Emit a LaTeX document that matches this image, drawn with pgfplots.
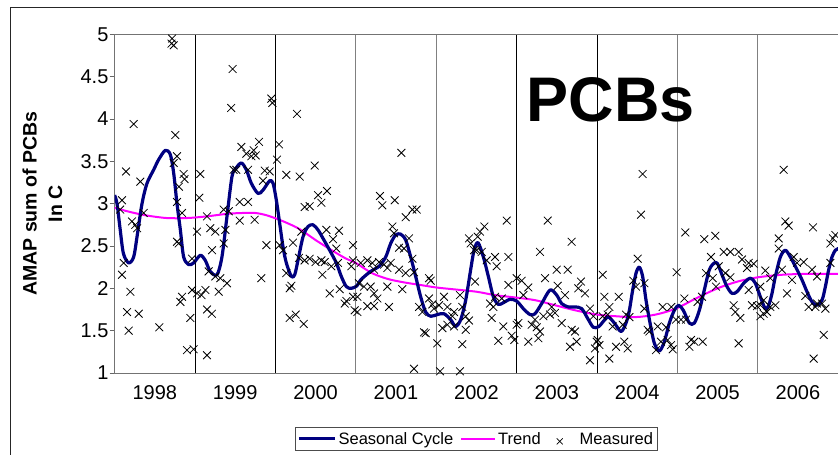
\documentclass[border=0pt]{standalone}
\usepackage{pgfplots}
\pgfplotsset{compat=1.18}
\usepackage{fontspec}
\setmainfont{Liberation Sans}
\definecolor{navyc}{RGB}{0,0,128}
\definecolor{magc}{RGB}{255,0,255}
\pgfplotsset{
  legline/.style={legend image code/.code={\draw[##1] (0pt,0pt) -- (#1,0pt);}},
  legmark/.style={legend image code/.code={\path[draw=none] (0pt,0pt) -- (30pt,0pt);
     \path[draw=black, line width=0.7pt] (9pt,-5.5pt) -- (15pt,0.5pt) (9pt,0.5pt) -- (15pt,-5.5pt);}},
}
\begin{document}
\begin{tikzpicture}[x=1pt,y=1pt]
\draw[black!85, line width=1pt] (10.7,-30) rectangle (900,447.7);
\begin{axis}[
  at={(114.6pt,82pt)}, anchor=south west,
  scale only axis, width=731.6pt, height=338.7pt,
  xmin=1998, xmax=2007.1, ymin=1, ymax=5,
  axis line style={draw=black!55, line width=0.8pt},
  /pgf/number format/assume math mode=true,
  ytick={1,1.5,2,2.5,3,3.5,4,4.5,5},
  ytick pos=left,
  y tick style={draw=black!60, line width=0.8pt},
  tick align=outside, major tick length=5pt,
  yticklabel style={font=\fontsize{20}{22}\selectfont, inner xsep=1pt},
  xtick={1999,2000,2003,2004}, xticklabels={},
  x tick style={draw=none},
  xmajorgrids, major grid style={black, line width=0.8pt},
  minor xtick={2001,2002,2005,2006}, xminorgrids,
  minor grid style={black!50, line width=0.8pt},
  extra x ticks={1998.5,1999.5,2000.5,2001.5,2002.5,2003.5,2004.5,2005.5,2006.5},
  extra x tick labels={1998,1999,2000,2001,2002,2003,2004,2005,2006},
  extra x tick style={grid=none, major tick length=0pt, tick style={draw=none}},
  xticklabel style={font=\fontsize{20}{22}\selectfont, yshift=-9pt},
  ylabel={AMAP sum of PCBs\\In C},
  ylabel style={at={(axis description cs:-0.0988,0.5)}, anchor=center, align=center,
    font=\bfseries\fontsize{19.5}{25.5}\selectfont},
  legend style={at={(0.4943,-0.1585)}, anchor=north, legend columns=3,
    draw=black!70, line width=0.8pt, font=\fontsize{16.5}{19}\selectfont,
    inner xsep=2pt, inner ysep=3pt, /tikz/every even column/.append style={column sep=5pt}},
  reverse legend,
]
\addplot[only marks, mark=x, mark size=5.5pt, mark options={line width=0.8pt, black}, legmark] coordinates {
(1998.715,4.95)(1998.708,4.89)(1998.735,4.87)(1999.468,4.59)(1999.45,4.13)(1998.237,3.94)(1998.755,3.81)
(1998.776,3.56)(1998.735,3.48)(1998.142,3.38)(1998.859,3.35)(1999.066,3.35)(1998.32,3.26)(1998.87,3.29)
(1998.8,3.20)(1999.48,3.40)(1999.054,3.07)(1998.092,3.04)(1998.776,3.02)(1998.07,2.93)(1998.362,2.89)
(1998.839,2.89)(1999.357,2.93)(1999.42,2.91)(1999.149,2.85)(1998.216,2.79)(1998.258,2.75)(1998.28,2.71)
(1999.19,2.71)(1999.025,2.67)(1999.253,2.67)(1999.378,2.69)(1998.776,2.55)(1998.797,2.53)(1999.357,2.53)
(1999.212,2.45)(1998.963,2.35)(1998.113,2.30)(1998.092,2.16)(1999.17,2.20)(1999.253,2.14)(1999.315,2.12)
(1999.398,2.06)(1998.196,1.96)(1998.963,1.98)(1999.025,1.94)(1999.08,1.92)(1999.13,1.98)(1999.295,1.96)
(1998.839,1.90)(1998.818,1.84)(1998.155,1.72)(1998.3,1.70)(1999.15,1.75)(1999.21,1.70)(1998.942,1.65)
(1998.175,1.50)(1998.556,1.54)(1998.9,1.27)(1998.983,1.28)(1999.149,1.21)
(1999.95,4.24)(1999.962,4.19)(2000.269,4.06)(1999.796,3.73)(1999.577,3.67)(1999.639,3.59)(1999.73,3.63)
(1999.701,3.56)(1999.755,3.57)(2000.045,3.70)(2000.02,3.52)(1999.514,3.40)(1999.66,3.40)(1999.867,3.39)
(1999.929,3.38)(2000.489,3.45)(2000.136,3.34)(2000.302,3.32)(1999.846,3.27)(2000.642,3.15)(2000.53,3.10)
(2000.572,3.01)(1999.556,3.02)(1999.66,3.02)(2000.364,2.96)(2000.426,2.97)(1999.556,2.80)(1999.742,2.81)
(1999.888,2.51)(2000.053,2.51)(2000.095,2.45)(2000.219,2.54)(2000.323,2.67)(2000.634,2.69)(2000.791,2.68)
(2000.717,2.58)(2000.758,2.47)(2000.294,2.36)(2000.364,2.33)(2000.426,2.35)(2000.5,2.31)(2000.572,2.33)
(2000.613,2.31)(2000.696,2.26)(2000.779,2.30)(2000.966,2.51)(2000.966,2.33)(2000.945,2.26)(1999.825,2.12)
(2000.136,2.18)(2000.199,2.03)(2000.178,2.00)(2000.584,2.16)(2000.675,1.94)(2000.8,1.99)(2000.883,1.85)
(2000.862,1.82)(2000.966,1.90)(2000.986,1.74)(2000.178,1.65)(2000.253,1.69)(2000.352,1.58)
(2001.567,3.60)(2001.301,3.09)(2001.33,2.98)(2001.484,3.04)(2001.704,2.93)(2001.757,2.93)(2001.621,2.84)
(2001.455,2.73)(2001.475,2.65)(2001.662,2.59)(2001.538,2.48)(2001.6,2.47)(2001.704,2.35)(2002.408,2.59)
(2002.429,2.53)(2002.471,2.45)(2001.061,2.30)(2001.144,2.33)(2001.206,2.30)(2001.289,2.31)(2001.351,2.28)
(2001.393,2.24)(2001.434,2.30)(2001.227,2.22)(2001.538,2.22)(2001.621,2.18)(2001.724,2.19)(2001.911,2.12)
(2001.932,2.09)(2001.04,2.06)(2001.102,2.02)(2001.185,2.02)(2001.393,2.02)(2001.579,1.99)(2001.227,1.94)
(2001.268,1.88)(2001.02,1.90)(2001.144,1.79)(2001.227,1.79)(2001.413,1.78)(2001.02,1.72)(2001.787,1.78)
(2001.828,1.72)(2001.911,1.88)(2001.952,1.81)(2001.973,1.76)(2002.035,1.80)(2002.097,1.90)(2002.139,1.78)
(2002.222,1.72)(2002.201,1.67)(2002.296,1.92)(2002.325,1.78)(2002.367,1.67)(2002.408,1.62)(2002.077,1.53)
(2002.139,1.57)(2002.222,1.55)(2002.367,1.51)(2001.869,1.47)(2001.849,1.48)(2002.014,1.35)(2002.325,1.34)
(2001.724,1.05)(2002.048,1.02)(2002.296,1.02)
(2002.877,2.80)(2003.387,2.80)(2003.685,2.55)(2002.599,2.73)(2002.545,2.67)(2002.516,2.61)(2003.291,2.43)
(2002.504,2.45)(2002.566,2.43)(2002.628,2.33)(2002.732,2.37)(2002.898,2.37)(2002.752,2.26)(2003.499,2.22)
(2003.636,2.22)(2003.354,2.12)(2003.001,2.12)(2003.063,2.09)(2003.801,2.08)(2002.898,2.04)(2003.146,2.01)
(2003.511,2.03)(2003.768,2.00)(2003.851,1.94)(2003.084,1.92)(2003.602,1.92)(2002.483,2.08)(2002.732,1.90)
(2002.67,1.82)(2002.711,1.78)(2002.815,1.88)(2003.437,1.78)(2003.478,1.71)(2003.416,1.69)(2003.913,1.76)
(2003.955,1.67)(2002.69,1.65)(2003.229,1.63)(2003.333,1.67)(2003.561,1.59)(2003.022,1.59)(2003.188,1.57)
(2002.835,1.55)(2003.25,1.54)(2003.291,1.49)(2003.001,1.57)(2003.685,1.51)(2003.727,1.49)(2002.939,1.44)
(2002.972,1.39)(2002.773,1.38)(2003.146,1.37)(2003.271,1.41)(2003.664,1.31)(2003.747,1.37)(2003.996,1.37)
(2003.913,1.15)(2003.975,1.29)
(2004.568,3.35)(2004.548,2.87)(2005.099,2.66)(2005.335,2.58)(2005.472,2.62)(2005.418,2.37)(2004.506,2.35)
(2004.071,2.16)(2004.991,2.19)(2005.356,2.18)(2004.452,2.09)(2004.589,2.06)(2004.485,2.02)(2005.439,2.12)
(2005.48,2.02)(2004.092,1.90)(2004.27,1.90)(2005.306,1.90)(2005.252,1.84)(2005.087,1.88)(2004.154,1.78)
(2004.589,1.76)(2004.817,1.78)(2004.925,1.78)(2004.071,1.67)(2004.133,1.69)(2004.361,1.69)(2004.403,1.66)
(2004.983,1.63)(2005.045,1.63)(2005.107,1.63)(2004.195,1.55)(2004.32,1.57)(2004.631,1.51)(2004.651,1.49)
(2004.755,1.55)(2004.859,1.54)(2004.009,1.39)(2004.03,1.33)(2004.237,1.31)(2004.34,1.37)(2004.382,1.29)
(2004.154,1.17)(2004.734,1.27)(2004.796,1.37)(2004.879,1.39)(2004.921,1.33)(2004.942,1.28)(2005.17,1.39)
(2005.211,1.37)(2005.315,1.37)(2005.149,1.31)
(2006.322,3.40)(2006.343,2.79)(2006.384,2.74)(2006.687,2.72)(2006.936,2.59)(2006.903,2.53)(2006.965,2.63)
(2006.26,2.59)(2006.26,2.47)(2005.576,2.43)(2005.659,2.43)(2005.763,2.43)(2005.804,2.34)(2005.887,2.30)
(2005.949,2.29)(2005.866,2.24)(2005.514,2.26)(2005.597,2.18)(2005.659,2.13)(2006.447,2.37)(2006.488,2.30)
(2006.571,2.31)(2006.675,2.22)(2006.737,2.14)(2006.903,2.30)(2006.094,2.21)(2006.156,2.12)(2006.301,2.22)
(2006.426,2.10)(2006.364,1.94)(2006.032,2.02)(2005.887,1.98)(2005.928,1.80)(2005.99,1.79)(2006.032,1.80)
(2006.073,1.86)(2006.156,1.78)(2006.219,1.80)(2006.115,1.72)(2006.073,1.70)(2006.032,1.67)(2006.592,1.91)
(2006.633,1.78)(2006.737,1.82)(2006.799,1.82)(2006.841,1.76)(2006.716,1.78)(2005.7,1.80)(2005.721,1.72)
(2005.783,1.65)(2005.762,1.35)(2006.82,1.45)(2006.695,1.17)
};
\addlegendentry{Measured}
\addplot[magc, line width=2pt, smooth, legline=34pt] coordinates {
(1998.0,2.95)(1998.2,2.90)(1998.4,2.86)(1998.65,2.83)(1998.9,2.83)(1999.15,2.85)(1999.4,2.88)(1999.6,2.89)
(1999.75,2.89)(1999.9,2.86)(2000.1,2.79)(2000.3,2.70)(2000.5,2.57)(2000.7,2.45)(2000.88,2.35)(2001.0,2.30)
(2001.2,2.18)(2001.4,2.11)(2001.6,2.07)(2001.8,2.04)(2002.0,2.01)(2002.2,1.99)(2002.5,1.96)(2002.73,1.92)
(2003.0,1.89)(2003.23,1.86)(2003.48,1.80)(2003.73,1.74)(2004.0,1.69)(2004.24,1.67)(2004.48,1.66)
(2004.73,1.69)(2004.98,1.76)(2005.23,1.88)(2005.5,2.00)(2005.75,2.08)(2006.0,2.13)(2006.3,2.16)
(2006.6,2.17)(2007.1,2.17)
};
\addlegendentry{Trend}
\addplot[navyc, line width=3.2pt, smooth, line join=round, legline=36pt] coordinates {
(1998.0,3.10)(1998.03,3.00)(1998.07,2.69)(1998.11,2.41)(1998.175,2.30)(1998.237,2.37)(1998.279,2.61)
(1998.341,3.00)(1998.403,3.24)(1998.486,3.40)(1998.548,3.52)(1998.631,3.63)(1998.693,3.58)(1998.735,3.36)
(1998.776,3.00)(1998.818,2.69)(1998.859,2.37)(1998.921,2.28)(1998.983,2.30)(1999.066,2.39)(1999.128,2.33)
(1999.19,2.20)(1999.273,2.16)(1999.335,2.37)(1999.398,2.85)(1999.46,3.32)(1999.51,3.42)(1999.577,3.48)
(1999.639,3.40)(1999.701,3.24)(1999.784,3.12)(1999.846,3.16)(1999.929,3.27)(1999.971,3.24)(2000.012,3.04)
(2000.053,2.77)(2000.095,2.49)(2000.136,2.30)(2000.199,2.14)(2000.24,2.16)(2000.281,2.33)(2000.344,2.61)
(2000.406,2.73)(2000.468,2.75)(2000.53,2.69)(2000.592,2.59)(2000.675,2.45)(2000.758,2.30)(2000.82,2.14)
(2000.883,2.02)(2000.945,2.00)(2001.015,2.03)(2001.061,2.10)(2001.185,2.20)(2001.289,2.26)(2001.372,2.37)
(2001.434,2.53)(2001.496,2.63)(2001.558,2.64)(2001.621,2.57)(2001.683,2.37)(2001.745,2.14)(2001.807,1.90)
(2001.869,1.72)(2001.932,1.67)(2002.014,1.69)(2002.097,1.70)(2002.18,1.63)(2002.242,1.55)(2002.305,1.63)
(2002.367,1.86)(2002.429,2.22)(2002.471,2.45)(2002.52,2.54)(2002.587,2.37)(2002.649,2.14)(2002.711,1.90)
(2002.773,1.81)(2002.835,1.83)(2002.918,1.87)(2003.001,1.85)(2003.084,1.76)(2003.167,1.69)(2003.229,1.70)
(2003.312,1.82)(2003.416,1.98)(2003.499,1.92)(2003.561,1.82)(2003.644,1.78)(2003.727,1.78)(2003.81,1.76)
(2003.893,1.63)(2003.955,1.54)(2004.025,1.55)(2004.133,1.66)(2004.216,1.59)(2004.299,1.49)(2004.361,1.59)
(2004.403,1.74)(2004.444,1.98)(2004.486,2.18)(2004.527,2.25)(2004.568,2.14)(2004.61,1.86)(2004.66,1.59)
(2004.714,1.35)(2004.776,1.26)(2004.838,1.37)(2004.9,1.59)(2004.962,1.74)(2005.016,1.80)(2005.074,1.74)
(2005.149,1.59)(2005.211,1.59)(2005.273,1.74)(2005.335,1.98)(2005.398,2.22)(2005.46,2.30)(2005.50,2.29)
(2005.555,2.16)(2005.617,2.02)(2005.68,1.94)(2005.742,1.96)(2005.825,2.06)(2005.908,2.12)(2005.97,2.06)
(2006.032,1.90)(2006.094,1.76)(2006.136,1.80)(2006.177,1.94)(2006.219,2.14)(2006.281,2.37)(2006.343,2.45)
(2006.405,2.37)(2006.467,2.26)(2006.55,2.10)(2006.612,1.96)(2006.675,1.84)(2006.737,1.80)(2006.799,1.86)
(2006.841,2.02)(2006.882,2.22)(2006.923,2.37)(2006.965,2.45)(2007.0,2.47)(2007.1,2.47)
};
\addlegendentry{Seasonal Cycle}
\node[anchor=base, font=\bfseries\fontsize{63}{70}\selectfont, inner sep=0pt] at (axis cs:2004.17,3.967) {PCBs};
\end{axis}
\pgfresetboundingbox
\useasboundingbox (0,0) rectangle (838,455);
\end{tikzpicture}
\end{document}
